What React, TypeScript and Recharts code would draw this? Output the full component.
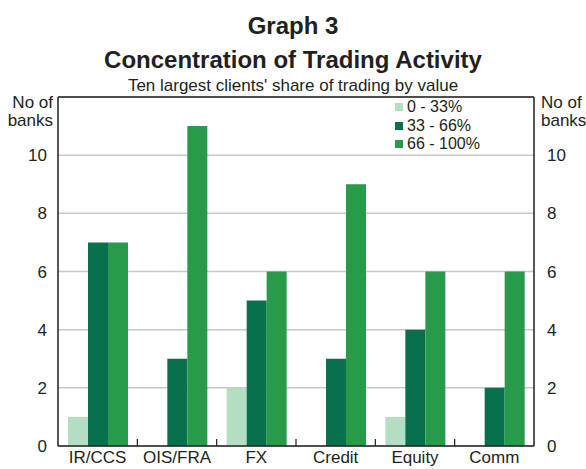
import React from "react";
import { ComposedChart, Bar, Line, XAxis, YAxis, CartesianGrid, ReferenceLine } from "recharts";

const categories = ["IR/CCS", "OIS/FRA", "FX", "Credit", "Equity", "Comm"];
const low = [1, 0, 2, 0, 1, 0];
const mid = [7, 3, 5, 3, 4, 2];
const high = [7, 11, 6, 9, 6, 6];
const yTicks = [0, 2, 4, 6, 8, 10];

const series = [
  { key: "low", name: "0 - 33%", color: "#b4dec3" },
  { key: "mid", name: "33 - 66%", color: "#08704c" },
  { key: "high", name: "66 - 100%", color: "#279b4a" },
];

const data = categories.map((name, i) => ({
  name,
  low: low[i],
  mid: mid[i],
  high: high[i],
}));

const font = "'Liberation Sans', Arial, sans-serif";
const ink = "#231f20";

function CategoryTick(props: any) {
  const { x, y, payload, index, width } = props;
  const half = (width ? width / categories.length : 79.3) / 2;
  return (
    <g>
      {index > 0 && (
        <line x1={x - half} x2={x - half} y1={y} y2={y - 7} stroke={ink} strokeWidth={1.2} />
      )}
      <text x={x} y={y + 17} textAnchor="middle" fill={ink} fontSize={17} fontFamily={font}>
        {payload.value}
      </text>
    </g>
  );
}

export default function App() {
  return (
    <div
      style={{
        position: "absolute",
        left: 0,
        top: 0,
        width: 586,
        height: 469,
        background: "#fff",
        fontFamily: font,
        color: ink,
      }}
    >
      <ComposedChart
        width={586}
        height={469}
        data={data}
        margin={{ top: 97, left: 0, right: 0, bottom: 0 }}
        barGap={0}
        barSize={20}
        style={{ position: "absolute", left: 0, top: 0 }}
      >
        <CartesianGrid yAxisId="left" horizontal vertical={false} stroke="#c8c8c8" strokeWidth={1.5} />
        <XAxis
          dataKey="name"
          tick={<CategoryTick />}
          tickLine={false}
          tickSize={0}
          tickMargin={0}
          axisLine={{ stroke: ink, strokeWidth: 1.5 }}
          height={23}
          interval={0}
        />
        <YAxis
          yAxisId="left"
          domain={[0, 12]}
          ticks={yTicks}
          width={58}
          tickLine={false}
          axisLine={{ stroke: ink, strokeWidth: 1.5 }}
          tick={{ fill: ink, fontSize: 17, fontFamily: font }}
          tickMargin={5}
        />
        <YAxis
          yAxisId="right"
          orientation="right"
          domain={[0, 12]}
          ticks={yTicks}
          width={52}
          tickLine={false}
          axisLine={{ stroke: ink, strokeWidth: 1.5 }}
          tick={{ fill: ink, fontSize: 17, fontFamily: font }}
          tickMargin={7}
        />
        <ReferenceLine yAxisId="left" y={12} stroke={ink} strokeWidth={1.5} />
        {series.map((s) => (
          <Bar
            key={s.key}
            yAxisId="left"
            dataKey={s.key}
            name={s.name}
            fill={s.color}
            isAnimationActive={false}
          />
        ))}
        {/* invisible series so the right-hand axis gets its ticks */}
        <Line
          yAxisId="right"
          dataKey="high"
          stroke="none"
          dot={false}
          activeDot={false}
          legendType="none"
          isAnimationActive={false}
        />
      </ComposedChart>
      <div style={{ position: "absolute", top: 14, width: 586, textAlign: "center", fontSize: 24, lineHeight: "24px", fontWeight: "bold" }}>
        Graph 3
      </div>
      <div style={{ position: "absolute", top: 48, width: 586, textAlign: "center", fontSize: 24, lineHeight: "24px", fontWeight: "bold" }}>
        Concentration of Trading Activity
      </div>
      <div style={{ position: "absolute", top: 77, width: 586, textAlign: "center", fontSize: 17, lineHeight: "17px" }}>
        Ten largest clients' share of trading by value
      </div>
      <div style={{ position: "absolute", top: 94, left: 0, width: 53, textAlign: "right", fontSize: 17, lineHeight: "18px" }}>
        No of
        <br />
        banks
      </div>
      <div style={{ position: "absolute", top: 94, left: 541, fontSize: 17, lineHeight: "18px" }}>
        No of
        <br />
        banks
      </div>
      <div style={{ position: "absolute", top: 98, left: 395, fontSize: 16, lineHeight: "18.5px" }}>
        {series.map((s) => (
          <div key={s.key} style={{ display: "flex", alignItems: "center" }}>
            <span style={{ display: "inline-block", width: 8, height: 8, background: s.color, marginRight: 4 }} />
            <span>{s.name}</span>
          </div>
        ))}
      </div>
    </div>
  );
}
